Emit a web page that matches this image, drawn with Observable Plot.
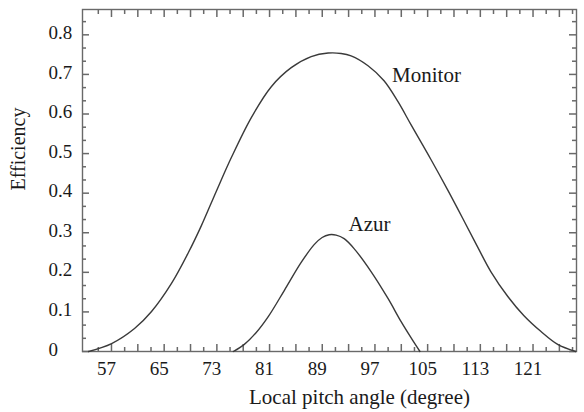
<!DOCTYPE html>
<html>
<head>
<meta charset="utf-8">
<script src="https://cdn.jsdelivr.net/npm/d3@7"></script>
<script src="https://cdn.jsdelivr.net/npm/@observablehq/plot@0.6"></script>
<style>
  html, body { margin: 0; padding: 0; background: #fff; }
  #chart { width: 584px; height: 412px; }
</style>
</head>
<body>
<div id="chart"></div>
<script>
// Monitor curve (pitch angle in degrees, efficiency)
const monitorAngle = [53.53, 57.02, 60.5, 63.08, 66.11, 68.68, 70.65, 72.92, 75.2, 78.23, 81.26, 84.29, 87.32, 89.89, 91.86, 93.38, 95.95, 98.38, 100.5, 102.47, 105.5, 108.08, 110.65, 112.62, 114.59, 117.17, 119.59, 122.17, 124.74, 127.47];
const monitorEff   = [0, 0.020, 0.058, 0.101, 0.172, 0.250, 0.318, 0.405, 0.490, 0.591, 0.669, 0.717, 0.745, 0.754, 0.753, 0.747, 0.722, 0.684, 0.631, 0.573, 0.485, 0.407, 0.326, 0.263, 0.202, 0.139, 0.091, 0.051, 0.018, 0];

// Azur curve
const azurAngle = [75.5, 77.17, 78.98, 80.8, 83.23, 85.8, 87.77, 88.98, 90.05, 91.11, 92.32, 93.83, 96.41, 98.98, 100.95, 102.47, 103.83];
const azurEff   = [0, 0.018, 0.048, 0.088, 0.154, 0.225, 0.270, 0.288, 0.295, 0.294, 0.285, 0.260, 0.202, 0.134, 0.076, 0.035, 0];

// Tick values
const xTickLabels = [57, 65, 73, 81, 89, 97, 105, 113, 121];
const xMajorTicks = [57, 61, 65, 69, 73, 77, 81, 85, 89, 93, 97, 101, 105, 109, 113, 117, 121, 125];
const xMinorTicks = [55, 59, 63, 67, 71, 75, 79, 83, 87, 91, 95, 99, 103, 107, 111, 115, 119, 123, 127];
const yTickLabels = [0, 0.1, 0.2, 0.3, 0.4, 0.5, 0.6, 0.7, 0.8];
const yMinorTicks = [1, 2, 4, 5, 7, 8, 10, 11, 13, 14, 16, 17, 19, 20, 22, 23, 25].map(k => k / 30);

// Curve labels
const seriesLabels = [
  {name: "Monitor", x: 99.6, y: 0.697},
  {name: "Azur", x: 93.0, y: 0.321}
];

const monitor = monitorAngle.map((a, i) => ({a, e: monitorEff[i]}));
const azur = azurAngle.map((a, i) => ({a, e: azurEff[i]}));

const W = 584, H = 412;
const mL = 82, mR = 8, mT = 9, mB = 61;
const plotW = W - mL - mR;
const xDomain = [52.6, 127.6];
const yDomain = [0, 0.864];
const ink = "#3a3a3a";
// tick lengths along x, expressed in data units
const xUnit = (xDomain[1] - xDomain[0]) / plotW;
const majX = 7 * xUnit, minX = 4 * xUnit;

const chart = Plot.plot({
  width: W,
  height: H,
  marginLeft: mL,
  marginRight: mR,
  marginTop: mT,
  marginBottom: mB,
  style: {fontFamily: "'Liberation Serif', 'Times New Roman', serif", fontSize: "19px", color: "#1a1a1a", background: "#fff"},
  x: {domain: xDomain},
  y: {domain: yDomain},
  marks: [
    Plot.frame({stroke: "dimgray", strokeWidth: 1.4}),
    Plot.axisX({ticks: xMajorTicks, anchor: "bottom", tickSize: -7, text: null, label: null, stroke: "dimgray", strokeWidth: 1.5}),
    Plot.axisX({ticks: xMinorTicks, anchor: "bottom", tickSize: -4, text: null, label: null, stroke: "dimgray", strokeWidth: 1.5}),
    Plot.axisX({ticks: xMajorTicks, anchor: "top", tickSize: -7, text: null, label: null, stroke: "dimgray", strokeWidth: 1.5}),
    Plot.axisX({ticks: xMinorTicks, anchor: "top", tickSize: -4, text: null, label: null, stroke: "dimgray", strokeWidth: 1.5}),
    Plot.ruleY(yTickLabels, {y: d => d, x1: xDomain[0], x2: xDomain[0] + majX, stroke: "dimgray", strokeWidth: 1.5}),
    Plot.ruleY(yMinorTicks, {y: d => d, x1: xDomain[0], x2: xDomain[0] + minX, stroke: "dimgray", strokeWidth: 1.5}),
    Plot.ruleY(yTickLabels, {y: d => d, x1: xDomain[1] - majX, x2: xDomain[1], stroke: "dimgray", strokeWidth: 1.5}),
    Plot.ruleY(yMinorTicks, {y: d => d, x1: xDomain[1] - minX, x2: xDomain[1], stroke: "dimgray", strokeWidth: 1.5}),
    Plot.axisX({ticks: xTickLabels, tickSize: 0, tickPadding: 10, dx: -5, label: null, tickFormat: d => String(d)}),
    Plot.axisY({ticks: yTickLabels, tickSize: 0, tickPadding: 34, textAnchor: "start", dy: -2, label: null,
      tickFormat: d => d === 0 ? "0" : d.toFixed(1)}),
    Plot.line(monitor, {x: "a", y: "e", curve: "catmull-rom", stroke: ink, strokeWidth: 1.4}),
    Plot.line(azur, {x: "a", y: "e", curve: "catmull-rom", stroke: ink, strokeWidth: 1.4}),
    Plot.text(seriesLabels, {x: "x", y: "y", text: "name", textAnchor: "start", lineAnchor: "middle", fontSize: 21, fill: "#1a1a1a"}),
    Plot.text(["Local pitch angle (degree)"], {frameAnchor: "bottom", dx: 30, dy: 46, lineAnchor: "middle", fontSize: 21, fill: "#1a1a1a"}),
    Plot.text(["Efficiency"], {frameAnchor: "left", rotate: -90, dx: -64, dy: 10, lineAnchor: "middle", fontSize: 20, fill: "#1a1a1a"})
  ]
});
document.getElementById("chart").appendChild(chart);
</script>
</body>
</html>
